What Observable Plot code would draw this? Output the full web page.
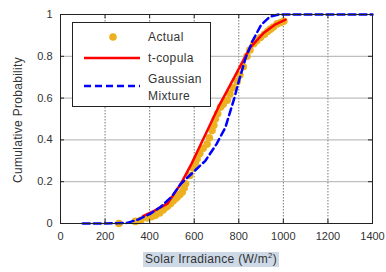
<!DOCTYPE html>
<html>
<head>
<meta charset="utf-8">
<script src="https://cdn.jsdelivr.net/npm/d3@7"></script>
<script src="https://cdn.jsdelivr.net/npm/@observablehq/plot@0.6"></script>
<style>
  body { margin: 0; background: white; }
  #wrap { position: relative; width: 386px; height: 272px; font-family: "Liberation Sans", Arial, sans-serif; color: #333; }
  #legend { position: absolute; left: 72px; top: 22px; width: 139px; height: 85px; background: white; border: 1px solid #222; box-sizing: border-box; }
  .lt { position: absolute; font-size: 12px; letter-spacing: 0.4px; color: #333; line-height: 1; }
  #xlabel { position: absolute; left: 143px; top: 252px; height: 15px; padding: 0 2px; background: #cdd9e6; font-size: 12px; letter-spacing: 0.3px; line-height: 15px; color: #333; white-space: nowrap; }
  #ylabel { position: absolute; left: 18px; top: 120px; transform: translate(-50%, -50%) rotate(-90deg); font-size: 12px; letter-spacing: 0.3px; color: #333; white-space: nowrap; }
</style>
</head>
<body>
<div id="wrap"></div>
<script>
// Tick values
const xTicks = [0, 200, 400, 600, 800, 1000, 1200, 1400];
const yTicks = [0, 0.2, 0.4, 0.6, 0.8, 1];
const yTickLabels = ["0", "0.2", "0.4", "0.6", "0.8", "1"];

// Series labels / colours
const seriesNames = ["Actual", "t-copula", "Gaussian Mixture"];
const seriesColors = ["#EDB120", "#ff0000", "#0000ff"];

// Actual (empirical) points: irradiance, probability
const actualX = [262, 336, 360, 389, 410, 426, 445, 460, 471, 480, 493, 505, 515, 523, 535, 546, 555, 561, 580, 595, 605, 613, 625, 640, 658, 668, 680, 688, 695, 705, 718, 730, 748, 760, 775, 793, 805, 820, 837, 850, 867, 880, 897, 915, 930, 942, 955, 972, 988, 1002];
const actualY = [0.0, 0.01, 0.015, 0.027, 0.033, 0.04, 0.05, 0.065, 0.076, 0.083, 0.095, 0.108, 0.118, 0.126, 0.138, 0.15, 0.17, 0.19, 0.23, 0.265, 0.29, 0.31, 0.335, 0.36, 0.38, 0.41, 0.445, 0.47, 0.5, 0.525, 0.557, 0.57, 0.59, 0.62, 0.65, 0.68, 0.71, 0.75, 0.80, 0.83, 0.86, 0.875, 0.89, 0.905, 0.92, 0.93, 0.94, 0.955, 0.962, 0.968];

// t-copula CDF
const tcopX = [370, 420, 480, 540, 590, 630, 670, 710, 760, 810, 850, 910, 960, 1010];
const tcopY = [0.035, 0.06, 0.095, 0.19, 0.29, 0.38, 0.47, 0.56, 0.66, 0.76, 0.84, 0.91, 0.95, 0.975];

// Gaussian mixture CDF
const gmX = [100, 200, 300, 350, 400, 450, 500, 540, 600, 650, 700, 740, 780, 800, 830, 860, 900, 940, 980, 1400];
const gmY = [0, 0, 0.003, 0.02, 0.045, 0.08, 0.13, 0.19, 0.25, 0.3, 0.38, 0.46, 0.6, 0.68, 0.79, 0.87, 0.95, 0.99, 1.0, 1.0];

const actual = actualX.map((x, i) => ({x, y: actualY[i]}));
const tcop = tcopX.map((x, i) => ({x, y: tcopY[i]}));
const gm = gmX.map((x, i) => ({x, y: gmY[i]}));

const inner = xTicks.slice(1, -1);
const innerY = yTicks.slice(1, -1);
const yFmt = (d) => yTickLabels[yTicks.indexOf(d)] ?? "";

const chart = Plot.plot({
  width: 386,
  height: 272,
  marginLeft: 60,
  marginRight: 14,
  marginTop: 14,
  marginBottom: 49,
  style: { fontFamily: "'Liberation Sans', Arial, sans-serif", fontSize: "11px", color: "#333", background: "white", overflow: "visible" },
  x: { domain: [0, 1400], ticks: xTicks, label: null, tickFormat: (d) => String(d) },
  y: { domain: [0, 1], ticks: yTicks, label: null, tickFormat: yFmt },
  marks: [
    Plot.ruleX(inner, { stroke: "#555", strokeWidth: 0.8, strokeDasharray: "1.5,1.5" }),
    Plot.ruleY(innerY, { stroke: "#999", strokeWidth: 0.8 }),
    Plot.dot(actual, { x: "x", y: "y", r: 3.8, fill: seriesColors[0], stroke: null }),
    Plot.line(tcop, { x: "x", y: "y", stroke: seriesColors[1], strokeWidth: 2.5 }),
    Plot.line(gm, { x: "x", y: "y", stroke: seriesColors[2], strokeWidth: 2.5, strokeDasharray: "7,4" }),
    Plot.frame({ stroke: "#222", strokeWidth: 1 }),
    // inward tick marks on all four sides
    Plot.ruleX(inner, { y1: 0, y2: 0.02, stroke: "#222" }),
    Plot.ruleX(inner, { y1: 1, y2: 0.98, stroke: "#222" }),
    Plot.ruleY(innerY, { x1: 0, x2: 18, stroke: "#222" }),
    Plot.ruleY(innerY, { x1: 1400, x2: 1382, stroke: "#222" }),
    Plot.axisX({ ticks: xTicks, tickSize: 0, tickPadding: 9, fill: "#333", tickFormat: (d) => String(d) }),
    Plot.axisY({ ticks: yTicks, tickSize: 0, tickPadding: 8, fill: "#333", tickFormat: yFmt })
  ]
});

const wrap = document.getElementById("wrap");
wrap.appendChild(chart);

// Legend overlay
const legend = document.createElement("div");
legend.id = "legend";
legend.innerHTML = `
  <svg width="139" height="85" style="position:absolute;left:0;top:0">
    <circle cx="40" cy="14" r="3.8" fill="${seriesColors[0]}"></circle>
    <line x1="11" x2="67" y1="35" y2="35" stroke="${seriesColors[1]}" stroke-width="2.5"></line>
    <line x1="11" x2="67" y1="63" y2="63" stroke="${seriesColors[2]}" stroke-width="2.5" stroke-dasharray="7,4"></line>
  </svg>
  <div class="lt" style="left:75px;top:8px">${seriesNames[0]}</div>
  <div class="lt" style="left:75px;top:29px">${seriesNames[1]}</div>
  <div class="lt" style="left:75px;top:50px">Gaussian</div>
  <div class="lt" style="left:75px;top:67px">Mixture</div>
`;
wrap.appendChild(legend);

const xl = document.createElement("div");
xl.id = "xlabel";
xl.innerHTML = "Solar Irradiance (W/m<sup style='font-size:8px;vertical-align:5px;line-height:0'>2</sup>)";
wrap.appendChild(xl);

const yl = document.createElement("div");
yl.id = "ylabel";
yl.textContent = "Cumulative Probability";
wrap.appendChild(yl);
</script>
</body>
</html>
